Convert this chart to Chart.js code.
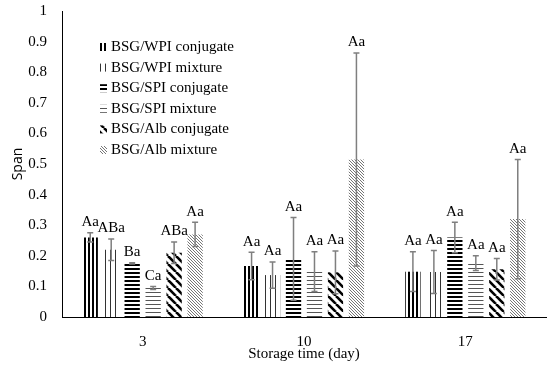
<!DOCTYPE html>
<html>
<head>
<meta charset="utf-8">
<script src="https://cdn.jsdelivr.net/npm/chart.js@4"></script>
<style>
  body { margin: 0; background: #fff; }
  #box { width: 550px; height: 368px; }
</style>
</head>
<body>
<div id="box"><canvas id="chart"></canvas></div>
<script>
const days = ['3', '10', '17'];
const seriesNames = ['BSG/WPI conjugate', 'BSG/WPI mixture', 'BSG/SPI conjugate', 'BSG/SPI mixture', 'BSG/Alb conjugate', 'BSG/Alb mixture'];
const yTickLabels = ['0', '0.1', '0.2', '0.3', '0.4', '0.5', '0.6', '0.7', '0.8', '0.9', '1'];

const wpiConj = [0.26, 0.167, 0.148];
const wpiMix = [0.22, 0.137, 0.147];
const spiConj = [0.175, 0.19, 0.26];
const spiMix = [0.095, 0.148, 0.176];
const albConj = [0.21, 0.146, 0.156];
const albMix = [0.27, 0.515, 0.32];

const wpiConjErr = [0.015, 0.045, 0.065];
const wpiMixErr = [0.035, 0.043, 0.07];
const spiConjErr = [0.002, 0.135, 0.05];
const spiMixErr = [0.005, 0.065, 0.024];
const albConjErr = [0.035, 0.07, 0.035];
const albMixErr = [0.04, 0.348, 0.195];

const wpiConjTag = ['Aa', 'Aa', 'Aa'];
const wpiMixTag = ['ABa', 'Aa', 'Aa'];
const spiConjTag = ['Ba', 'Aa', 'Aa'];
const spiMixTag = ['Ca', 'Aa', 'Aa'];
const albConjTag = ['ABa', 'Aa', 'Aa'];
const albMixTag = ['Aa', 'Aa', 'Aa'];

const values = [wpiConj, wpiMix, spiConj, spiMix, albConj, albMix];
const errors = [wpiConjErr, wpiMixErr, spiConjErr, spiMixErr, albConjErr, albMixErr];
const tags = [wpiConjTag, wpiMixTag, spiConjTag, spiMixTag, albConjTag, albMixTag];

function tile(w, h, draw) {
  const c = document.createElement('canvas');
  c.width = w; c.height = h;
  const g = c.getContext('2d');
  draw(g);
  return document.getElementById('chart').getContext('2d').createPattern(c, 'repeat');
}

function diag(g, size, width, color) {
  g.strokeStyle = color;
  g.lineWidth = width;
  for (let k = -size; k <= size; k += size) {
    g.beginPath();
    g.moveTo(k, 0);
    g.lineTo(k + size, size);
    g.stroke();
  }
}

const patterns = [
  tile(4, 4, g => { g.fillStyle = '#000'; g.fillRect(0, 0, 2, 4); }),
  tile(5, 5, g => { g.fillStyle = '#333'; g.fillRect(0, 0, 1, 5); }),
  tile(4, 4, g => { g.fillStyle = '#000'; g.fillRect(0, 0, 4, 2); }),
  tile(4, 4, g => { g.fillStyle = '#555'; g.fillRect(0, 0, 4, 1); }),
  tile(8, 8, g => diag(g, 8, 2.6, '#000')),
  tile(3, 3, g => diag(g, 3, 0.9, '#666'))
];

const serif = "'Liberation Serif', serif";

const errorBars = {
  id: 'errorBars',
  afterDatasetsDraw(chart) {
    const ctx = chart.ctx;
    const y = chart.scales.y;
    ctx.save();
    chart.data.datasets.forEach((ds, i) => {
      const meta = chart.getDatasetMeta(i);
      meta.data.forEach((bar, j) => {
        const v = values[i][j], e = errors[i][j];
        const top = y.getPixelForValue(v + e);
        const bot = y.getPixelForValue(v - e);
        ctx.strokeStyle = '#7f7f7f';
        ctx.lineWidth = 1.5;
        ctx.beginPath();
        ctx.moveTo(bar.x, top); ctx.lineTo(bar.x, bot);
        ctx.moveTo(bar.x - 3, top); ctx.lineTo(bar.x + 3, top);
        ctx.moveTo(bar.x - 3, bot); ctx.lineTo(bar.x + 3, bot);
        ctx.stroke();
        ctx.fillStyle = '#000';
        ctx.font = '15px ' + serif;
        ctx.textAlign = 'center';
        ctx.textBaseline = 'bottom';
        ctx.fillText(tags[i][j], bar.x, top - 3);
      });
    });
    ctx.restore();
  }
};

const boxLegend = {
  id: 'boxLegend',
  afterDraw(chart) {
    const ctx = chart.ctx;
    ctx.save();
    ctx.font = '15px ' + serif;
    ctx.textBaseline = 'middle';
    ctx.textAlign = 'left';
    chart.data.datasets.forEach((ds, i) => {
      const yy = 47 + i * 20.6;
      ctx.fillStyle = ds.backgroundColor;
      ctx.fillRect(100, yy - 4, 7, 8);
      ctx.fillStyle = '#000';
      ctx.fillText(ds.label, 111, yy);
    });
    ctx.restore();
  }
};

new Chart(document.getElementById('chart'), {
  type: 'bar',
  data: {
    labels: days,
    datasets: seriesNames.map((name, i) => ({
      label: name,
      data: values[i],
      backgroundColor: patterns[i],
      borderWidth: 0,
      categoryPercentage: 0.78,
      barPercentage: 0.73
    }))
  },
  options: {
    responsive: true,
    maintainAspectRatio: false,
    animation: false,
    layout: { padding: { top: 11, right: 4, left: 0, bottom: 0 } },
    plugins: { legend: { display: false }, tooltip: { enabled: false } },
    scales: {
      x: {
        grid: { display: false, drawTicks: false },
        border: { color: '#000', width: 1 },
        ticks: { color: '#000', font: { family: serif, size: 15 }, padding: 16 },
        title: { display: true, text: 'Storage time (day)', color: '#000', font: { family: serif, size: 15 }, padding: { top: 0, bottom: 5 } },
        afterFit(scale) { scale.height = 51; }
      },
      y: {
        min: 0,
        max: 1,
        grid: { display: false, drawTicks: false },
        border: { color: '#000', width: 1 },
        ticks: {
          stepSize: 0.1, color: '#000', font: { family: serif, size: 15 }, padding: 15,
          callback: (v, i) => yTickLabels[i]
        },
        title: { display: true, text: 'Span', color: '#000', font: { family: "'Open Sans', sans-serif", size: 14 }, padding: { top: 10, bottom: 0 } },
        afterFit(scale) { scale.width = 62; scale.paddingTop = 0; scale.paddingBottom = 0; }
      }
    }
  },
  plugins: [errorBars, boxLegend]
});
</script>
</body>
</html>
